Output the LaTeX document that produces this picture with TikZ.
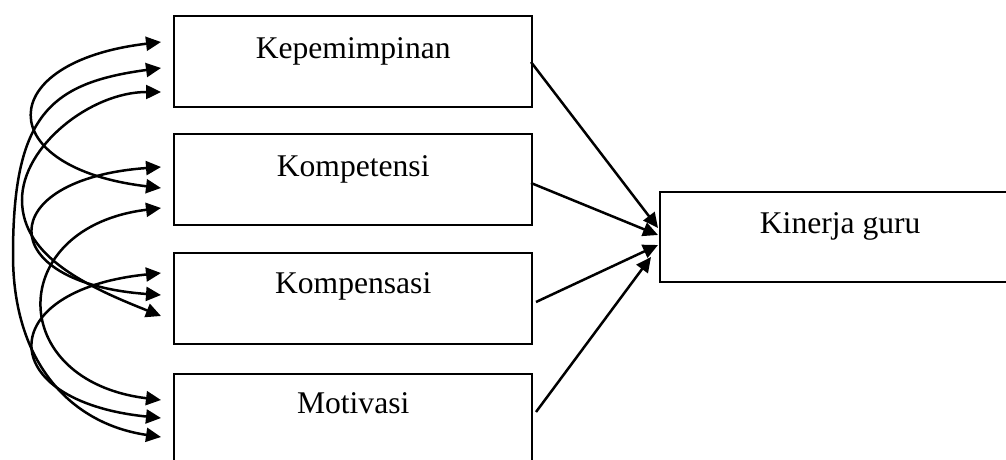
\documentclass[tikz,border=0pt]{standalone}
\usepackage{fontspec}
\setmainfont{Liberation Serif}
\usetikzlibrary{arrows.meta}
\begin{document}
\begin{tikzpicture}[x=1pt,y=-1pt,
  box/.style={draw, line width=2.4pt, inner sep=0pt, anchor=north west,
    font=\fontsize{31.6}{38}\selectfont},
  tip/.style={Triangle[length=15pt,width=14pt]},
  dbl/.style={line width=2.5pt, {Triangle[length=15pt,width=14pt]}-{Triangle[length=15pt,width=14pt]}},
  arr/.style={line width=2.5pt, -{Triangle[length=15pt,width=14pt]}}]
\useasboundingbox (0,0) rectangle (1006,460);
% boxes
\node[box, minimum width=358pt, text height=42pt, text depth=49pt] (k1) at (173,15) {Kepemimpinan};
\node[box, minimum width=358pt, text height=42pt, text depth=49pt] (k2) at (173,133) {Kompetensi};
\node[box, minimum width=358pt, text height=40pt, text depth=51pt] (k3) at (173,252) {Kompensasi};
\node[box, minimum width=358pt, text height=39pt, text depth=52pt] (k4) at (173,373) {Motivasi};
\node[box, minimum width=360pt, text height=41pt, text depth=49pt] (kg) at (659,191) {Kinerja guru};
% arrow ends on the left
\coordinate (a1) at (161,42);  \coordinate (a2) at (161,68);  \coordinate (a3) at (161,92);
\coordinate (b1) at (161,167); \coordinate (b2) at (161,188); \coordinate (b3) at (161,208);
\coordinate (c1) at (161,273); \coordinate (c2) at (161,295); \coordinate (c3) at (161,316);
\coordinate (d1) at (161,400); \coordinate (d2) at (161,418); \coordinate (d3) at (161,437);
% correlation curves
\draw[dbl] (a1) .. controls (-8,62) and (-8,168) .. (b2);
\draw[dbl] (a2) .. controls (50,83) and (13,115) .. (13,255) .. controls (13,364) and (71.8,424) .. (d3);
\draw[dbl] (a3) .. controls (91,92) and (22,146) .. (22,200) .. controls (22,258) and (91,288) .. (c3);
\draw[dbl] (b1) .. controls (-7,179) and (-7,283) .. (c2);
\draw[dbl] (b3) .. controls (5,227) and (5,381) .. (d1);
\draw[dbl] (c1) .. controls (-7,290) and (-7,401) .. (d2);
% arrows to Kinerja guru
\coordinate (s1) at (531,62);  \coordinate (t1) at (658,228);
\coordinate (s2) at (531,183); \coordinate (t2) at (658,235);
\coordinate (s3) at (536,302); \coordinate (t3) at (658,245);
\coordinate (s4) at (536,412); \coordinate (t4) at (651,257);
\draw[arr] (s1) -- (t1);
\draw[arr] (s2) -- (t2);
\draw[arr] (s3) -- (t3);
\draw[arr] (s4) -- (t4);
\end{tikzpicture}
\end{document}
